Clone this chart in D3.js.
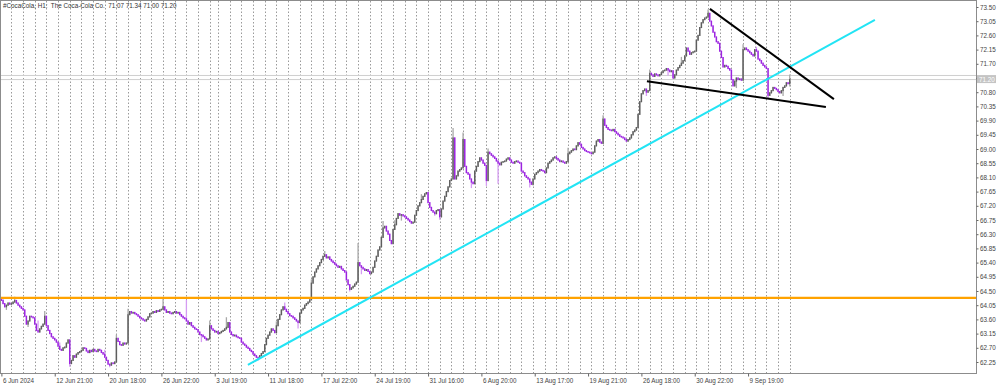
<!DOCTYPE html>
<html><head><meta charset="utf-8">
<script src="https://cdn.jsdelivr.net/npm/d3@7"></script>
<style>html,body{margin:0;padding:0;background:#fff;}svg{display:block;font-family:"Liberation Sans",Arial,sans-serif;}</style>
</head><body><svg id="c" width="1000" height="386"></svg>
<script>
const titleText = "#CocaCola, H1:  The Coca-Cola Co.  71.07 71.34 71.00 71.20";
const days = ["6 Jun","7 Jun","10 Jun","11 Jun","12 Jun","13 Jun","14 Jun","17 Jun","18 Jun","20 Jun","21 Jun","24 Jun","25 Jun","26 Jun","27 Jun","28 Jun",
"1 Jul","2 Jul","3 Jul","5 Jul","8 Jul","9 Jul","10 Jul","11 Jul","12 Jul","15 Jul","16 Jul","17 Jul","18 Jul","19 Jul","22 Jul","23 Jul","24 Jul","25 Jul","26 Jul","29 Jul","30 Jul","31 Jul",
"1 Aug","2 Aug","5 Aug","6 Aug","7 Aug","8 Aug","9 Aug","12 Aug","13 Aug","14 Aug","15 Aug","16 Aug","19 Aug","20 Aug","21 Aug","22 Aug","23 Aug","26 Aug","27 Aug","28 Aug","29 Aug","30 Aug",
"3 Sep","4 Sep","5 Sep","6 Sep","9 Sep","10 Sep","11 Sep","12 Sep","13 Sep"];
const firstOpen = 64.25;
// hourly closes, grouped by trading day
const dayCloses = [
[64.20,64.10,64.00,64.05,64.12,64.08],
[64.10,64.15,64.20,64.12,64.05,64.00,63.95],
[63.90,63.70,63.45,63.55,63.70,63.68,63.65],
[63.45,63.25,63.20,63.30,63.38,63.45,63.70],
[63.40,63.25,63.15,63.05,63.00,62.95,62.88],
[62.75,62.65,62.62,62.70,62.72,62.85,62.95],
[62.20,62.30,62.45,62.40,62.50,62.55,62.58],
[62.62,62.70,62.68,62.60,62.55,62.62,62.58],
[62.65,62.60,62.58,62.65,62.62,62.55,62.50],
[62.40,62.30,62.18,62.15,62.22,62.20,62.25],
[63.00,62.90,62.80,62.78,62.85,62.82,62.85],
[63.75,63.85,63.80,63.82,63.78,63.75,63.70],
[63.65,63.62,63.58,63.55,63.60,63.68,63.78],
[63.80,63.85,63.82,63.88,63.85,63.90,63.92],
[64.00,63.90,63.82,63.85,63.80,63.78,63.82],
[63.85,63.80,63.82,63.75,63.70,63.65,63.62],
[63.55,63.45,63.50,63.40,63.35,63.30,63.28],
[63.20,63.12,63.10,63.05,63.00,62.95,62.98],
[63.40,63.30,63.25,63.20,63.22],
[63.15,63.18,63.22,63.25,63.30,63.35,63.50],
[63.20,63.12,63.08,63.10,63.05,63.02,63.00],
[62.88,62.82,62.78,62.72,62.68,62.62,62.58],
[62.50,62.45,62.40,62.38,62.45,62.52,62.58],
[62.80,63.00,63.10,63.20,63.30,63.25,63.18],
[63.40,63.60,63.75,63.90,64.00,63.92,63.85],
[63.78,63.72,63.70,63.65,63.60,63.55,63.50],
[63.80,63.90,63.95,64.05,64.10,64.15,64.22],
[64.75,64.95,65.10,65.20,65.30,65.40,65.50],
[65.60,65.65,65.55,65.58,65.50,65.45,65.40],
[65.35,65.30,65.25,65.28,65.20,65.15,65.10],
[64.85,64.70,64.55,64.60,64.65,64.72,64.78],
[65.40,65.30,65.25,65.20,65.15,65.18,65.12],
[65.05,65.10,65.25,65.45,65.60,65.80,65.90],
[66.20,66.50,66.55,66.40,66.30,66.10,66.00],
[66.45,66.60,66.80,66.95,66.90,66.92,66.88],
[66.85,66.80,66.75,66.70,66.65,66.68,66.90],
[67.05,67.20,67.30,67.40,67.50,67.58,67.62],
[67.30,67.15,67.05,67.00,66.95,67.05,67.08],
[66.85,67.10,67.35,67.50,67.65,67.80,68.00],
[68.05,69.35,68.05,68.15,68.30,68.35,68.40],
[69.30,68.45,68.25,68.20,68.05,67.95,67.90],
[68.30,68.45,68.60,68.72,68.65,68.55,68.48],
[68.00,68.90,68.85,68.80,68.75,68.70,68.62],
[68.55,68.50,68.58,68.60,68.62,68.68,68.72],
[68.65,68.58,68.55,68.60,68.62,68.58,68.55],
[68.30,68.25,68.15,68.10,68.05,67.95,67.88],
[68.05,68.20,68.25,68.30,68.35,68.32,68.30],
[68.25,68.40,68.55,68.60,68.65,68.72,68.75],
[68.70,68.65,68.60,68.62,68.58,68.55,68.60],
[68.85,68.90,68.95,69.00,68.98,69.10,69.20],
[69.15,69.05,69.00,68.95,68.92,68.90,68.88],
[68.85,68.90,69.10,69.25,69.30,69.22,69.18],
[69.95,69.75,69.68,69.62,69.60,69.58,69.62],
[69.55,69.50,69.45,69.40,69.38,69.35,69.30],
[69.25,69.30,69.35,69.45,69.55,69.60,69.68],
[70.10,70.50,70.75,70.85,70.90,70.80,70.85],
[71.40,71.35,71.30,71.38,71.35,71.32,71.36],
[71.42,71.48,71.50,71.55,71.50,71.45,71.48],
[71.25,71.35,71.50,71.58,71.65,71.72,71.80],
[71.95,72.20,72.10,72.00,72.05,72.08,72.10],
[72.45,72.60,72.85,73.00,73.10,73.15,73.18],
[73.30,73.05,72.90,72.70,72.55,72.40,72.35],
[72.10,71.90,71.60,71.65,71.62,71.55,71.50],
[71.20,71.00,71.15,71.25,71.20,71.22,71.18],
[72.15,72.20,72.15,72.10,72.05,72.00,71.95],
[72.15,72.10,71.85,71.80,71.72,71.65,71.60],
[71.55,70.70,70.78,70.85,70.95,70.92,70.88],
[70.82,70.78,70.85,70.95,71.00,71.10,71.07],
[71.20]
];
// notable wick extremes [bar index, price]
const wickHighs = [[1,64.28],[8,64.30],[22,63.55],[26,63.85],[35,62.85],[62,62.62],[69,63.10],[76,63.92],[97,64.25],[111,64.20],[125,63.55],[135,63.65],[165,63.52],[170,64.12],[186,64.85],[194,65.75],[214,66.00],[229,66.70],[236,66.72],[252,67.55],[271,69.65],[277,69.50],[292,69.00],[340,69.02],[361,70.05],[389,71.50],[408,71.90],[424,73.40],[445,72.30],[453,72.22],[473,71.34]];
const wickLows = [[3,63.92],[16,63.38],[41,62.12],[65,62.10],[120,62.90],[154,62.32],[178,63.33],[209,64.50],[216,65.05],[240,66.75],[260,66.90],[263,66.78],[282,67.78],[291,67.85],[298,67.92],[317,67.80],[319,67.86],[387,70.70],[400,71.35],[441,70.95],[460,70.62],[469,70.70],[473,71.00]];
const priceTicks = [73.50,73.05,72.60,72.15,71.70,71.25,70.80,70.35,69.90,69.45,69.00,68.55,68.10,67.65,67.20,66.75,66.30,65.85,65.40,64.95,64.50,64.05,63.60,63.15,62.70,62.25];
const timeTicks = [0,32,64,96,128,160,192,224,256,288,320,352,384,416,448];
const timeLabels = ["6 Jun 2024","12 Jun 21:00","20 Jun 18:00","26 Jun 22:00","3 Jul 19:00","11 Jul 18:00","17 Jul 22:00","24 Jul 19:00","31 Jul 16:00","6 Aug 20:00","13 Aug 17:00","19 Aug 21:00","26 Aug 18:00","30 Aug 22:00","9 Sep 19:00"];
const bidPrice = 71.20, askPrice = 71.33;
const supportLevel = 64.28;
const trendCyan = [[147.9,62.16],[524.1,73.09]];
const trendUpper = [[425.1,73.44],[499.5,70.58]];
const trendLower = [[387.3,71.15],[494.7,70.33]];

const svg = d3.select("#c");
const plotL = 1, plotR = 976, plotT = 1, plotB = 373;
const x = d3.scaleLinear().domain([0,600]).range([1.4, 1.4 + 600*5/3]);
const y = d3.scaleLinear().domain([62.25,73.50]).range([362,7]);

const bars = []; const dayStart = [];
let prev = firstOpen;
dayCloses.forEach(arr => {
  dayStart.push(bars.length);
  arr.forEach(c => { bars.push({i:bars.length,o:prev,c:c,h:Math.max(prev,c),l:Math.min(prev,c)}); prev = c; });
});
wickHighs.forEach(([i,v]) => bars[i].h = Math.max(bars[i].h, v));
wickLows.forEach(([i,v]) => bars[i].l = Math.min(bars[i].l, v));

svg.append("defs").append("clipPath").attr("id","clip").append("rect")
  .attr("x",plotL).attr("y",plotT).attr("width",plotR-plotL).attr("height",plotB-plotT);

const plot = svg.append("g").attr("clip-path","url(#clip)");
// day separators
plot.append("g").selectAll("line").data(dayStart.slice(1)).join("line")
  .attr("x1",d=>Math.round(x(d))+0.5).attr("x2",d=>Math.round(x(d))+0.5)
  .attr("y1",plotT).attr("y2",plotB)
  .attr("stroke","#9a9a9a").attr("stroke-width",1).attr("stroke-dasharray","1.5,2");
// bid/ask lines
plot.selectAll("line.ba").data([askPrice,bidPrice]).join("line").attr("class","ba")
  .attr("x1",plotL).attr("x2",plotR).attr("y1",d=>y(d)).attr("y2",d=>y(d))
  .attr("stroke","#cfcfcf").attr("stroke-width",1);
// candles
const cg = plot.append("g");
cg.selectAll("line.w").data(bars).join("line").attr("class","w")
  .attr("x1",d=>x(d.i)).attr("x2",d=>x(d.i)).attr("y1",d=>y(d.h)-0.6).attr("y2",d=>y(d.l)+0.6)
  .attr("stroke",d=>d.c>=d.o?"#a8a8a8":"#d59cf2").attr("stroke-width",1.3);
cg.selectAll("rect.b").data(bars).join("rect").attr("class","b")
  .attr("x",d=>x(d.i)-0.7).attr("width",1.4)
  .attr("y",d=>Math.min(y(d.o),y(d.c))-0.5).attr("height",d=>Math.abs(y(d.o)-y(d.c))+1)
  .attr("fill",d=>d.c>=d.o?"#5e5e5e":"#9b24e0");
// objects
plot.append("line").attr("x1",plotL).attr("x2",plotR).attr("y1",y(supportLevel)).attr("y2",y(supportLevel))
  .attr("stroke","#ffa200").attr("stroke-width",2.2);
const tl = (pts,col) => plot.append("line")
  .attr("x1",x(pts[0][0])).attr("y1",y(pts[0][1])).attr("x2",x(pts[1][0])).attr("y2",y(pts[1][1]))
  .attr("stroke",col).attr("stroke-width",2);
tl(trendCyan,"#22e4f4");
tl(trendUpper,"#000");
tl(trendLower,"#000");

// frame
svg.append("rect").attr("x",plotL-0.5).attr("y",plotT-0.5).attr("width",plotR-plotL+1).attr("height",plotB-plotT+1)
  .attr("fill","none").attr("stroke","#8c8c8c");

// axes
const ya = svg.append("g").attr("transform",`translate(${plotR+0.5},0)`)
  .call(d3.axisRight(y).tickValues(priceTicks).tickSize(2).tickPadding(1.5).tickFormat(d3.format(".2f")));
ya.select(".domain").remove();
ya.selectAll("line").attr("stroke","#666");
ya.selectAll("text").attr("fill","#444").style("font-size","6.3px").style("font-family","Liberation Sans, Arial");

const xa = svg.append("g").attr("transform",`translate(0,${plotB+0.5})`)
  .call(d3.axisBottom(x).tickValues(timeTicks).tickSize(3).tickPadding(2).tickFormat((d,i)=>timeLabels[i]));
xa.select(".domain").remove();
xa.selectAll("line").attr("stroke","#666");
xa.selectAll("text").attr("text-anchor","start").attr("x",1).attr("fill","#444").style("font-size","6.3px").style("font-family","Liberation Sans, Arial");

// price box
const by = y(bidPrice);
svg.append("rect").attr("x",plotR+1).attr("y",by-4.5).attr("width",19).attr("height",8).attr("fill","#c4c4c4");
svg.append("text").attr("x",plotR+3).attr("y",by+2).text(bidPrice.toFixed(2))
  .attr("fill","#fff").style("font-size","6.3px");

// title
svg.append("text").attr("x",3).attr("y",8).text(titleText).attr("fill","#333").style("font-size","6.3px").attr("xml:space","preserve").style("white-space","pre");
</script></body></html>
